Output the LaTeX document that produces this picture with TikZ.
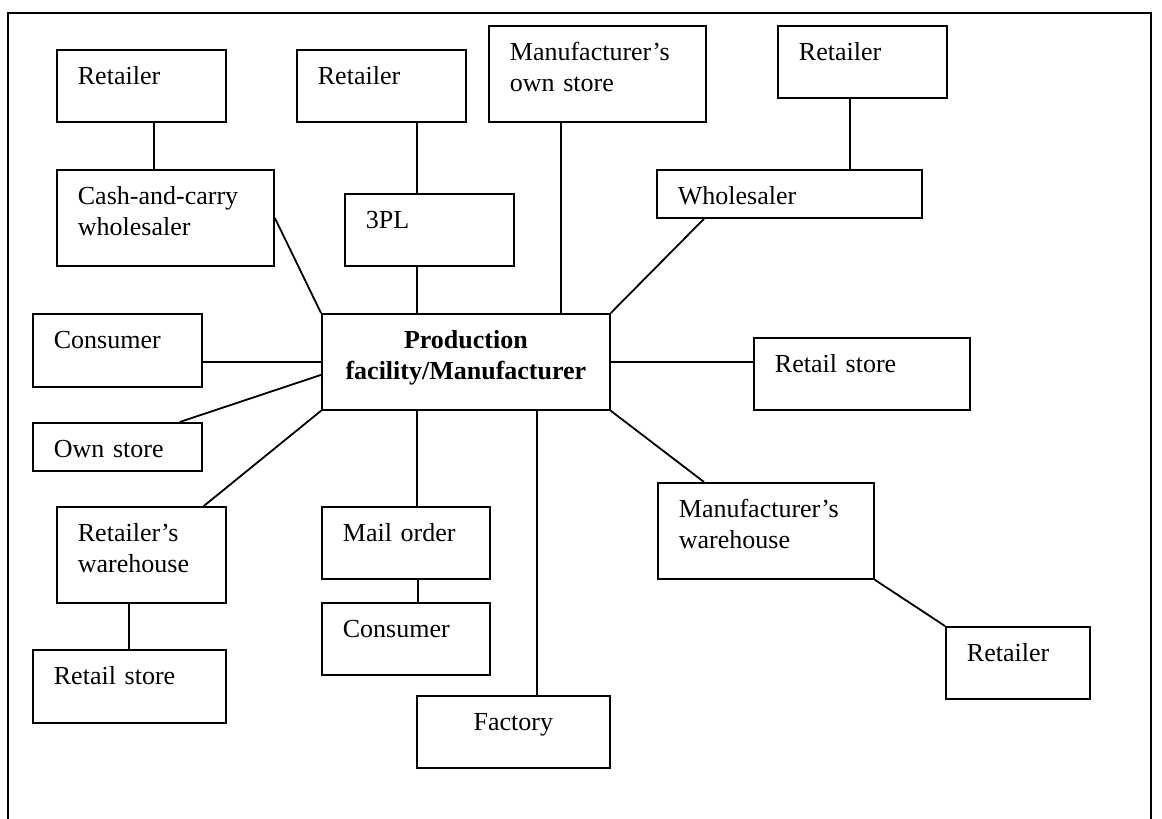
\documentclass[tikz,border=0pt]{standalone}
\usepackage{fontspec}
\setmainfont{Liberation Serif}

\tikzset{
	box/.style 2 args={draw, line width=0.9pt, anchor=north west, align=left,
		inner xsep=10.5pt, inner ysep=0pt, text width=#1, text height=17.5pt, text depth=#2},
	link/.style={line width=0.9pt},
}

\begin{document}
\fontsize{13}{15.5}\selectfont
\begin{tikzpicture}[x=0.5pt, y=-0.5pt]
	\useasboundingbox (0,0) rectangle (1162,819);
	\draw[link] (8,819) -- (8,13) -- (1151,13) -- (1151,819);
	
	\node[box={136pt}{30.5pt}, align=center, inner xsep=4pt, font=\bfseries] (prod) at (321,313) {Production\\facility/Manufacturer};
	\node[box={63.5pt}{18.5pt}] (ret1) at (56,49) {Retailer};
	\node[box={87.5pt}{30.5pt}] (cash) at (56,169) {Cash-and-carry\\wholesaler};
	\node[box={63.5pt}{18.5pt}] (ret2) at (296,49) {Retailer};
	\node[box={63.5pt}{18.5pt}] (tpl) at (344,193) {3PL};
	\node[box={87.5pt}{30.5pt}] (mos) at (488,25) {Manufacturer’s\\own store};
	\node[box={63.5pt}{18.5pt}] (ret3) at (777,25) {Retailer};
	\node[box={111.5pt}{6.5pt}] (whole) at (656,169) {Wholesaler};
	\node[box={63.5pt}{19pt}] (consL) at (32,313) {Consumer};
	\node[box={63.5pt}{6.5pt}] (own) at (32,422) {Own store};
	\node[box={87pt}{18.5pt}] (rsR) at (753,337) {Retail store};
	\node[box={63.5pt}{30.5pt}] (rwh) at (56,506) {Retailer’s\\warehouse};
	\node[box={75.5pt}{19pt}] (rsL) at (32,649) {Retail store};
	\node[box={63pt}{18.5pt}] (mail) at (321,506) {Mail order};
	\node[box={63pt}{18.5pt}] (consM) at (321,602) {Consumer};
	\node[box={75.5pt}{18.5pt}, align=center] (fact) at (416,695) {Factory};
	\node[box={87pt}{30.5pt}] (mwh) at (657,482) {Manufacturer’s\\warehouse};
	\node[box={51pt}{18.5pt}] (retB) at (945,626) {Retailer};
	
	\draw[link] ([xshift=6.25pt]ret1.south) -- ([xshift=6.25pt]ret1.south |- cash.north);
	\draw[link] ([xshift=17.75pt]ret2.south) -- ([xshift=17.75pt]ret2.south |- tpl.north);
	\draw[link] ([xshift=-6.25pt]tpl.south) -- ([xshift=-6.25pt]tpl.south |- prod.north);
	\draw[link] ([xshift=-18.25pt]mos.south) -- ([xshift=-18.25pt]mos.south |- prod.north);
	\draw[link] ([xshift=-6.25pt]ret3.south) -- ([xshift=-6.25pt]ret3.south |- whole.north);
	\draw[link] ([xshift=24pt]whole.south west) -- (prod.north east);
	\draw[link] (cash.east) -- (prod.north west);
	\draw[link] (prod.west) -- (prod.west -| consL.east);
	\draw[link] ([yshift=-6.5pt]prod.west) -- ([xshift=-11.5pt]own.north east);
	\draw[link] (prod.south west) -- ([xshift=-11.5pt]rwh.north east);
	\draw[link] ([xshift=-6.25pt]rwh.south) -- ([xshift=-6.25pt]rwh.south |- rsL.north);
	\draw[link] ([xshift=48pt]prod.south west) -- ([xshift=48pt]prod.south west |- mail.north);
	\draw[link] ([xshift=6pt]mail.south) -- ([xshift=6pt]mail.south |- consM.north);
	\draw[link] ([xshift=108pt]prod.south west) -- ([xshift=108pt]prod.south west |- fact.north);
	\draw[link] (prod.east) -- (prod.east -| rsR.west);
	\draw[link] (prod.south east) -- ([xshift=23.5pt]mwh.north west);
	\draw[link] (mwh.south east) -- (retB.north west);
\end{tikzpicture}
\end{document}
